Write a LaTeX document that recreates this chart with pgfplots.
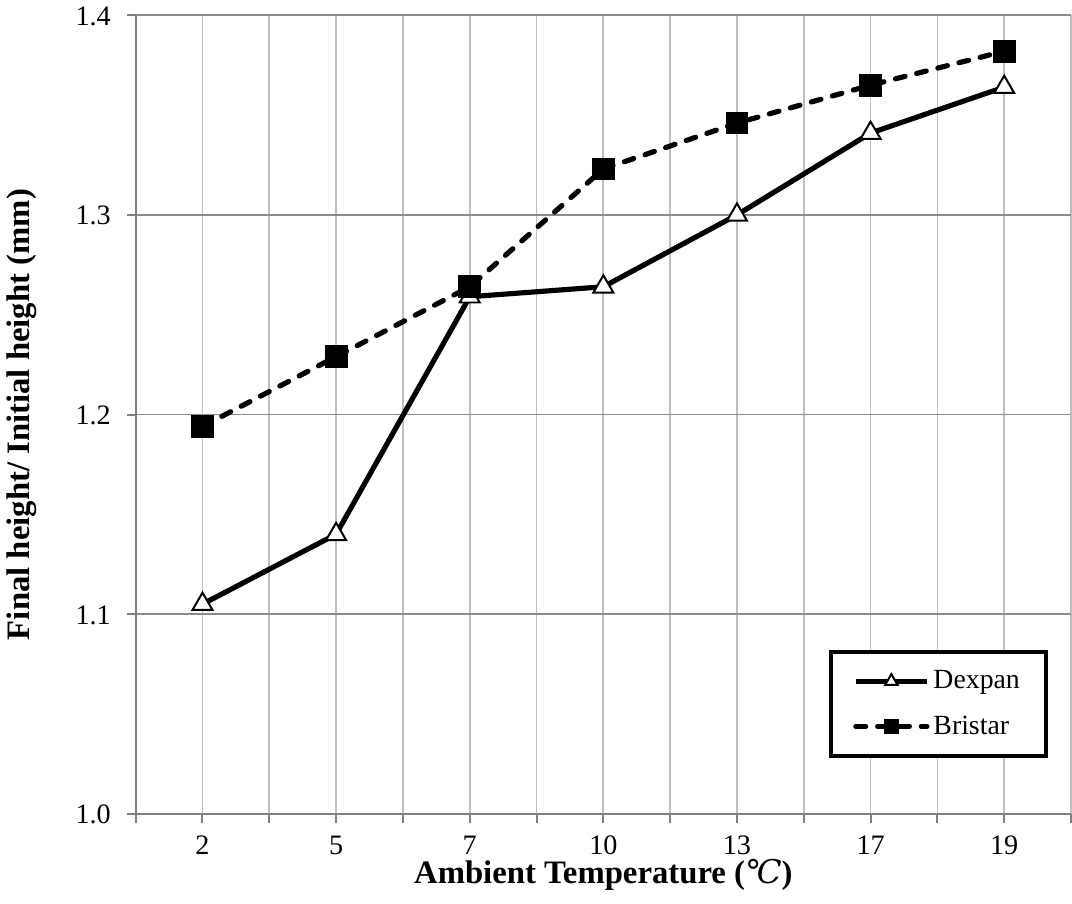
\documentclass[border=0pt]{standalone}
\usepackage{pgfplots}
\pgfplotsset{compat=1.18}
\usepackage{fontspec}
\setmainfont{Liberation Serif}
\newfontfamily\symfont{DejaVu Serif}
\begin{document}
\begin{tikzpicture}
\begin{axis}[
  scale only axis,
  width=471.5pt, height=402.5pt,
  xmin=-0.5, xmax=6.5, ymin=1.0, ymax=1.4,
  axis x line*=bottom, axis y line*=left,
  axis line style={draw=black!50, line width=1pt, -},
  xtick={0,...,6},
  xticklabels={2,5,7,10,13,17,19},
  minor xtick={-0.5,0.5,...,6.5},
  ytick={1.0,1.1,1.2,1.3,1.4},
  yticklabel style={/pgf/number format/fixed, /pgf/number format/fixed zerofill, /pgf/number format/precision=1},
  /pgf/number format/assume math mode=true,
  tick align=outside,
  major tick length=4.5pt, minor tick length=4.5pt,
  tick style={draw=black!50, line width=1pt},
  xmajorgrids, xminorgrids, ymajorgrids,
  x grid style={draw=black!25, line width=0.9pt},
  minor x grid style={draw=black!25, line width=0.9pt},
  y grid style={draw=black!45, line width=0.9pt},
  ticklabel style={font=\fontsize{14.2}{16}\selectfont},
  xticklabel style={anchor=base, yshift=-16pt},
  yticklabel style={anchor=base east, xshift=-4.5pt, yshift=-5pt},
  xlabel={\textbf{Ambient Temperature (}{\symfont\itshape ℃}\textbf{)}},
  ylabel={\textbf{Final height/ Initial height (mm)}},
  every axis x label/.style={at={(axis description cs:0.5,-0.077)}, anchor=center, font=\fontsize{16.5}{20}\selectfont},
  every axis y label/.style={at={(axis description cs:-0.122,0.5)}, anchor=center, rotate=90, font=\fontsize{16.5}{20}\selectfont},
  legend style={at={(0.975,0.07)}, anchor=south east, draw=black, line width=2pt,
    font=\fontsize{14}{17}\selectfont, row sep=8pt, inner xsep=11pt, inner ysep=7.5pt, fill=white},
  legend cell align=left,
  legend image code/.code={\draw[mark repeat=2,mark phase=2,mark size=3.6pt,#1] plot coordinates {(0cm,0cm)(0.63cm,0cm)(1.26cm,0cm)};},
  clip=false,
]
\addplot[black, line width=2.6pt, mark=triangle*, mark size=5.8pt,
  mark options={fill=white, draw=black, line width=1pt, solid}]
  coordinates {(0,1.105) (1,1.140) (2,1.259) (3,1.264) (4,1.300) (5,1.341) (6,1.364)};
\addlegendentry{Dexpan}
\addplot[black, line width=2.6pt, line cap=round, dash pattern=on 5pt off 6pt, mark=square*, mark size=5.5pt,
  mark options={fill=black, draw=black, line width=0.5pt, solid}]
  coordinates {(0,1.194) (1,1.229) (2,1.264) (3,1.323) (4,1.346) (5,1.365) (6,1.382)};
\addlegendentry{Bristar}
\path (rel axis cs:0.5,-0.113);
\end{axis}
\end{tikzpicture}
\end{document}
